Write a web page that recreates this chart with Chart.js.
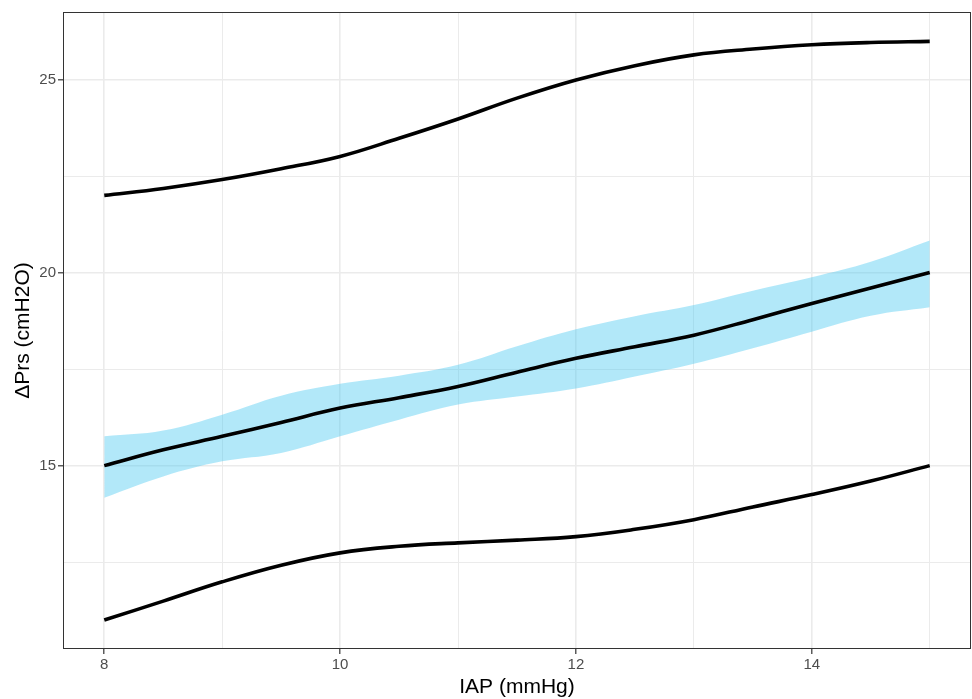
<!DOCTYPE html>
<html>
<head>
<meta charset="utf-8">
<script src="https://cdn.jsdelivr.net/npm/chart.js@4.4.1/dist/chart.umd.min.js"></script>
<style>
  html, body { margin: 0; padding: 0; background: #ffffff; }
  #wrap { width: 972px; height: 699px; }
</style>
</head>
<body>
<div id="wrap"><canvas id="c" width="972" height="699"></canvas></div>
<script>
// ---- data ----
const xValues      = [8, 8.5, 9, 9.5, 10, 10.5, 11, 11.5, 12, 12.5, 13, 13.5, 14, 14.5, 15];
const upperCurve   = [22.0, 22.18, 22.41, 22.69, 23.01, 23.48, 23.98, 24.52, 24.99, 25.36, 25.64, 25.79, 25.9, 25.96, 25.99];
const lowerCurve   = [11.0, 11.49, 11.99, 12.42, 12.74, 12.91, 13.0, 13.07, 13.16, 13.35, 13.6, 13.93, 14.25, 14.6, 15.0];
const meanCurve    = [15.0, 15.41, 15.76, 16.12, 16.49, 16.76, 17.05, 17.42, 17.78, 18.08, 18.38, 18.78, 19.2, 19.6, 20.0];
const bandUpper    = [15.76, 15.91, 16.32, 16.81, 17.12, 17.33, 17.61, 18.09, 18.53, 18.87, 19.16, 19.53, 19.88, 20.28, 20.83];
const bandLower    = [14.17, 14.72, 15.11, 15.33, 15.76, 16.19, 16.58, 16.79, 17.0, 17.31, 17.64, 18.04, 18.47, 18.88, 19.1];
const xMajorTicks  = [8, 10, 12, 14];
const xMinorTicks  = [9, 11, 13, 15];
const yMajorTicks  = [15, 20, 25];
const yMinorTicks  = [12.5, 17.5, 22.5];
const xTitle = 'IAP (mmHg)';
const yTitle = '\u0394Prs (cmH2O)';

const pts = arr => xValues.map((x, i) => ({ x: x, y: arr[i] }));

const panelBorder = {
  id: 'panelBorder',
  afterDatasetsDraw(chart) {
    const { ctx, chartArea: a } = chart;
    ctx.save();
    ctx.strokeStyle = '#333333';
    ctx.lineWidth = 1;
    ctx.strokeRect(a.left + 0.5, a.top + 0.5, a.right - a.left - 1, a.bottom - a.top - 1);
    ctx.restore();
  }
};

const isMajor = (list, v) => list.some(t => Math.abs(t - v) < 1e-9);
const FONT = "'Liberation Sans', Arial, sans-serif";

const lineDs = (data) => ({
  data: pts(data), borderColor: '#000000', borderWidth: 3.6, pointRadius: 0,
  fill: false, tension: 0.4, borderCapStyle: 'butt', order: 0
});

new Chart(document.getElementById('c'), {
  type: 'line',
  data: {
    datasets: [
      { data: pts(bandLower), borderWidth: 0, borderColor: 'rgba(0,0,0,0)', pointRadius: 0,
        fill: false, tension: 0.4, order: 10 },
      { data: pts(bandUpper), borderWidth: 0, borderColor: 'rgba(0,0,0,0)', pointRadius: 0,
        fill: 0, backgroundColor: 'rgba(72,200,240,0.42)', tension: 0.4, order: 9 },
      lineDs(meanCurve),
      lineDs(upperCurve),
      lineDs(lowerCurve)
    ]
  },
  options: {
    responsive: false,
    animation: false,
    devicePixelRatio: 1,
    layout: { padding: { top: 12, right: 1, left: 0, bottom: 0 } },
    plugins: { legend: { display: false }, tooltip: { enabled: false }, filler: { drawTime: 'beforeDatasetsDraw' } },
    scales: {
      x: {
        type: 'linear', min: 7.65, max: 15.35,
        afterBuildTicks: s => { s.ticks = xMajorTicks.concat(xMinorTicks).sort((a, b) => a - b).map(v => ({ value: v })); },
        afterFit: s => { s.height = 50; },
        border: { display: false },
        grid: {
          color: '#EBEBEB',
          lineWidth: c => isMajor(xMajorTicks, c.tick ? c.tick.value : 0) ? 1.6 : 1.0,
          tickColor: c => isMajor(xMajorTicks, c.tick ? c.tick.value : 0) ? '#333333' : 'rgba(0,0,0,0)',
          tickLength: 5, tickWidth: 1.2
        },
        ticks: {
          autoSkip: false, maxRotation: 0, padding: 2, color: '#4D4D4D',
          font: { family: FONT, size: 15 },
          callback: v => isMajor(xMajorTicks, v) ? String(v) : ''
        },
        title: { display: true, text: xTitle, color: '#000000',
          font: { family: FONT, size: 21, lineHeight: 1 }, padding: { top: 0, bottom: 1 } }
      },
      y: {
        type: 'linear', min: 10.25, max: 26.75,
        afterBuildTicks: s => { s.ticks = yMajorTicks.concat(yMinorTicks).sort((a, b) => a - b).map(v => ({ value: v })); },
        afterFit: s => { s.width = 63; },
        border: { display: false },
        grid: {
          color: '#EBEBEB',
          lineWidth: c => isMajor(yMajorTicks, c.tick ? c.tick.value : 0) ? 1.6 : 1.0,
          tickColor: c => isMajor(yMajorTicks, c.tick ? c.tick.value : 0) ? '#333333' : 'rgba(0,0,0,0)',
          tickLength: 5, tickWidth: 1.2
        },
        ticks: {
          autoSkip: false, padding: 2, color: '#4D4D4D',
          font: { family: FONT, size: 15 },
          callback: v => isMajor(yMajorTicks, v) ? String(v) : ''
        },
        title: { display: true, text: yTitle, color: '#000000',
          font: { family: FONT, size: 21, lineHeight: 1 }, padding: { top: 13, bottom: 0 } }
      }
    }
  },
  plugins: [panelBorder]
});
</script>
</body>
</html>
